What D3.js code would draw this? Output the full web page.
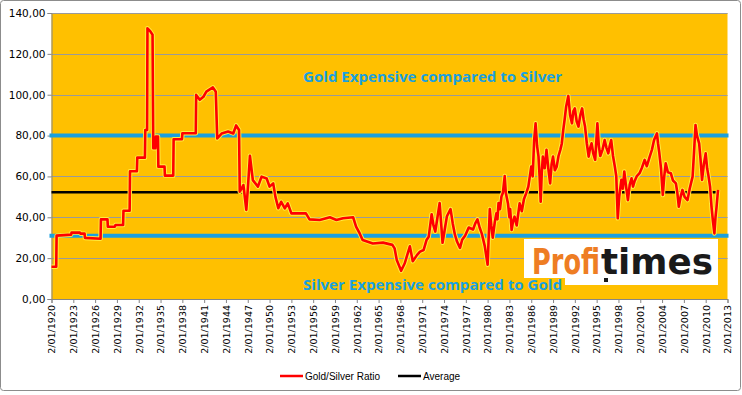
<!DOCTYPE html>
<html>
<head>
<meta charset="utf-8">
<script src="https://cdn.jsdelivr.net/npm/d3@7"></script>
<style>
  body { margin: 0; background: #fff; }
  svg { display: block; }
</style>
</head>
<body>
<svg></svg>
<script>
// gold / silver ratio since 1920, with the average and the two "zones"

// decimal years and ratio values
var years = [
  1920.0, 1920.65, 1920.7, 1922.7, 1922.75, 1923.9, 1924.0, 1924.55, 1924.6, 1926.75,
  1926.8, 1927.7, 1927.75, 1928.7, 1928.8, 1929.85, 1929.9, 1930.75, 1930.8, 1931.75,
  1931.8, 1932.85, 1932.9, 1933.15, 1933.2, 1933.6, 1933.9, 1934.0, 1934.3, 1934.35,
  1934.65, 1934.7, 1935.55, 1935.6, 1936.75, 1936.8, 1937.95, 1938.0, 1939.85, 1939.9,
  1940.4, 1940.9, 1941.3, 1942.2, 1942.6, 1942.8, 1943.4, 1944.3, 1945.0, 1945.4,
  1945.8, 1945.9, 1946.4, 1946.8, 1947.0, 1947.3, 1947.7, 1948.4, 1948.9, 1949.6,
  1950.0, 1950.5, 1950.8, 1951.2, 1951.6, 1952.1, 1952.5, 1953.0, 1955.0, 1955.5,
  1956.9, 1958.3, 1959.2, 1960.1, 1961.5, 1961.9, 1962.4, 1962.8, 1964.2, 1965.6,
  1966.9, 1967.2, 1967.5, 1968.1, 1968.6, 1969.3, 1969.7, 1970.3, 1970.7, 1971.2,
  1971.6, 1971.9, 1972.3, 1972.55, 1972.8, 1973.1, 1973.4, 1973.8, 1974.1, 1974.4,
  1974.9, 1975.2, 1975.5, 1975.8, 1976.2, 1976.5, 1976.9, 1977.4, 1978.0, 1978.3,
  1978.6, 1978.9, 1979.2, 1979.6, 1980.0, 1980.3, 1980.5, 1980.7, 1981.0, 1981.2,
  1981.35, 1981.5, 1981.7, 1981.9, 1982.1, 1982.35, 1982.5, 1982.8, 1983.0, 1983.1,
  1983.3, 1983.5, 1983.7, 1984.0, 1984.4, 1984.7, 1985.0, 1985.3, 1985.6, 1986.0,
  1986.2, 1986.4, 1986.6, 1986.8, 1987.0, 1987.15, 1987.3, 1987.45, 1987.6, 1987.85,
  1988.1, 1988.35, 1988.6, 1988.8, 1989.0, 1989.25, 1989.5, 1989.75, 1990.0, 1990.2,
  1990.4, 1990.6, 1990.8, 1991.1, 1991.35, 1991.6, 1991.8, 1992.0, 1992.25, 1992.5,
  1992.75, 1993.0, 1993.2, 1993.4, 1993.65, 1993.9, 1994.1, 1994.3, 1994.55, 1994.8,
  1995.1, 1995.3, 1995.5, 1995.8, 1996.1, 1996.35, 1996.6, 1996.8, 1997.0, 1997.25,
  1997.5, 1997.7, 1997.9, 1998.1, 1998.4, 1998.6, 1998.8, 1999.05, 1999.3, 1999.55,
  1999.8, 2000.0, 2000.2, 2000.5, 2000.9, 2001.2, 2001.6, 2001.9, 2002.3, 2002.6,
  2002.9, 2003.3, 2003.45, 2003.6, 2003.85, 2004.1, 2004.3, 2004.5, 2004.8, 2005.2,
  2005.5, 2005.9, 2006.1, 2006.3, 2006.55, 2006.8, 2007.1, 2007.5, 2007.8, 2008.2,
  2008.4, 2008.6, 2008.8, 2009.1, 2009.3, 2009.5, 2009.75, 2010.0, 2010.2, 2010.4,
  2010.6, 2010.8, 2011.0, 2011.2, 2011.35, 2011.5, 2011.7
];
var ratio = [
  15.8, 15.8, 31, 31.5, 32.5, 32.5, 32, 32, 29.9, 29.5,
  39, 39, 35.4, 35.4, 36.2, 36.2, 43.2, 43.2, 62.5, 62.5,
  69.2, 69.2, 82.7, 82.7, 132.5, 131, 129.4, 73.8, 73.8, 79.5,
  79.5, 64.8, 64.8, 60.4, 60.4, 78.2, 78.2, 81.1, 81.1, 99.9,
  97.5, 99, 101.5, 103.6, 101.5, 78.6, 81, 82, 81, 85,
  82.7, 52.5, 55.8, 43.6, 53.4, 70.1, 58.2, 55, 59.9, 59,
  55, 56.6, 50.1, 44.4, 47.6, 44.4, 46.8, 41.9, 41.9, 39,
  38.7, 40, 38.7, 39.5, 40, 35.4, 32.1, 28.9, 27.2, 27.6,
  26.5, 24.8, 19.1, 13.8, 17.5, 25.8, 18.5, 21.6, 23.2, 24,
  28.9, 30.5, 41.5, 36, 33, 40, 47, 27.5, 34, 40.5,
  44, 37, 31.5, 28, 25, 29, 31, 35, 34, 37,
  39, 35, 32, 26, 16.8, 44, 36, 30, 38, 41.9,
  39, 47, 44, 50.1, 52, 60.2, 52, 46.8, 40, 44,
  33.8, 38, 40.3, 36, 46.8, 43, 49, 51.7, 55, 64.8,
  60, 77.8, 86, 75, 69.7, 60, 47.6, 62, 69.7, 64,
  73, 64, 56.6, 66, 69.7, 63, 64.8, 70, 73, 76,
  82.7, 88, 94.1, 99.4, 90, 86, 92, 93.3, 87, 84.4,
  90, 93.3, 88, 84.4, 76, 69.7, 74, 76.2, 71, 68.1,
  86, 75, 70, 73, 77.8, 74, 71.3, 75, 77.8, 70,
  64.8, 60, 39.5, 50, 58.3, 54, 62.4, 55, 48.4, 56,
  59.1, 55, 57.5, 60, 61.6, 64, 68.1, 65, 69.7, 73,
  77.8, 81.1, 76, 72.1, 64, 50.9, 60, 66.4, 62, 61.6,
  58, 56.6, 52, 45.2, 50, 53.4, 50, 48.4, 54, 59.9,
  72, 85.2, 80, 76.2, 68, 58.3, 66, 71.3, 64, 59.9,
  55, 45.2, 38, 32.1, 40, 45.2, 53.4
];
var average = 52.2;
var zones = [80, 31];
var zoneLabels = ['Gold Expensive compared to Silver', 'Silver Expensive compared to Gold'];
var yTicks = [0, 20, 40, 60, 80, 100, 120, 140];
var tickYears = d3.range(1920, 2014, 3);
var legendItems = [
  { name: 'Gold/Silver Ratio', color: '#ff0000' },
  { name: 'Average', color: '#000000' }
];

var width = 742;
var height = 395;
var margin = { top: 13, right: 14.5, bottom: 96, left: 51.5 };
var svg = d3.select('svg')
              .attr('width', width)
              .attr('height', height);

function toDate(y) {
  var yr = Math.floor(y);
  var start = new Date(yr, 0, 2);
  var end = new Date(yr + 1, 0, 2);
  return new Date(+start + (y - yr) * (end - start));
}

var data = years.map((y, i) => ({ date: toDate(y), value: ratio[i] }));

var x = d3.scaleTime()
            .domain([new Date(1920, 0, 2), new Date(2013, 0, 2)])
            .range([margin.left, width - margin.right]);
var y = d3.scaleLinear()
            .domain([0, 140])
            .range([height - margin.bottom, margin.top]);

// outer frame
svg.append('rect')
    .attr('x', 0.5).attr('y', 0.5)
    .attr('width', 740).attr('height', 390)
    .attr('rx', 3)
    .attr('fill', '#fff')
    .attr('stroke', '#8c8c8c');

// plot area
svg.append('rect')
    .attr('x', margin.left)
    .attr('y', margin.top)
    .attr('width', width - margin.right - margin.left)
    .attr('height', height - margin.bottom - margin.top)
    .attr('fill', '#ffc000');

// gridlines
svg.append('g')
  .selectAll('line')
  .data(yTicks.slice(1))
  .enter()
  .append('line')
    .attr('x1', margin.left)
    .attr('x2', width - margin.right)
    .attr('y1', d => Math.round(y(d)) + 0.5)
    .attr('y2', d => Math.round(y(d)) + 0.5)
    .attr('stroke', '#9a9a9a')
    .attr('stroke-width', 1);

// y axis
var yAxis = svg.append('g')
    .attr('transform', `translate(${margin.left},0)`)
    .call(d3.axisLeft(y)
      .tickValues(yTicks)
      .tickSize(4)
      .tickFormat(d => d3.format('.2f')(d).replace('.', ',')));
yAxis.select('.domain').attr('stroke', '#868686');
yAxis.selectAll('.tick line').attr('stroke', '#868686');
yAxis.selectAll('text')
    .attr('x', -6)
    .style('font-family', 'DejaVu Sans, sans-serif')
    .style('font-size', '10.5px')
    .attr('fill', '#000');

// x axis
var xAxis = svg.append('g')
    .attr('transform', `translate(0,${height - margin.bottom})`)
    .call(d3.axisBottom(x)
      .tickValues(tickYears.map(t => new Date(t, 0, 2)))
      .tickSize(4)
      .tickFormat(d3.timeFormat('%-d/%m/%Y')));
xAxis.select('.domain').attr('stroke', '#868686');
xAxis.selectAll('.tick line').attr('stroke', '#868686');
xAxis.selectAll('text')
    .attr('transform', 'rotate(-90)')
    .attr('x', -6)
    .attr('y', 0)
    .attr('dy', '0.35em')
    .attr('text-anchor', 'end')
    .style('font-family', 'DejaVu Sans, sans-serif')
    .style('font-size', '9.5px')
    .attr('fill', '#000');

// zone lines
svg.append('g')
  .selectAll('line')
  .data(zones)
  .enter()
  .append('line')
    .attr('x1', margin.left - 2)
    .attr('x2', width - margin.right + 1)
    .attr('y1', d => y(d))
    .attr('y2', d => y(d))
    .attr('stroke', '#1aa0df')
    .attr('stroke-width', 4);

// average line
svg.append('line')
    .attr('x1', x(data[0].date))
    .attr('x2', x(data[data.length - 1].date))
    .attr('y1', y(average))
    .attr('y2', y(average))
    .attr('stroke', '#000')
    .attr('stroke-width', 2.5);

// ratio line
var line = d3.line()
    .x(d => x(d.date))
    .y(d => y(d.value));

svg.append('path')
    .datum(data)
    .attr('d', line)
    .attr('fill', 'none')
    .attr('stroke', '#ffee40')
    .attr('stroke-width', 4.5)
    .attr('stroke-linejoin', 'round');

svg.append('path')
    .datum(data)
    .attr('d', line)
    .attr('fill', 'none')
    .attr('stroke', '#ff0000')
    .attr('stroke-width', 2.6)
    .attr('stroke-linejoin', 'round');

// logo
var logo = svg.append('g');
logo.append('rect')
    .attr('x', 524).attr('y', 239)
    .attr('width', 194).attr('height', 46)
    .attr('fill', '#fff');
var logoParts = [
  { text: 'Profi', x: 532, w: 68, color: '#ee7d23' },
  { text: 'times', x: 601, w: 112, color: '#1a1a1a' }
];
logoParts.forEach(function(p) {
  var t = logo.append('text')
      .attr('fill', p.color)
      .style('font-family', 'DejaVu Sans, sans-serif')
      .style('font-weight', 'bold')
      .style('font-size', '36px')
      .text(p.text);
  // squeeze the glyphs horizontally so the real box matches the logo width
  var natural = t.node().getComputedTextLength();
  t.attr('transform', `translate(${p.x},274) scale(${p.w / natural},1)`);
});
logo.append('rect')
    .attr('x', 604).attr('y', 278)
    .attr('width', 4).attr('height', 4)
    .attr('fill', '#1a1a1a');

// zone labels (text boxes with the plot colour behind them, drawn over the logo)
var labelY = [82, 290];
var labels = svg.append('g')
  .selectAll('g')
  .data(zoneLabels)
  .enter()
  .append('g');
labels.append('rect')
    .attr('x', 301)
    .attr('y', (d, i) => labelY[i] - 12)
    .attr('width', 264)
    .attr('height', 16)
    .attr('fill', '#ffc000');
labels.append('text')
    .attr('x', 303)
    .attr('y', (d, i) => labelY[i])
    .attr('fill', '#1aa0df')
    .attr('textLength', 259)
    .attr('lengthAdjust', 'spacingAndGlyphs')
    .style('font-family', 'Open Sans, sans-serif')
    .style('font-weight', 'bold')
    .style('font-size', '15px')
    .text(d => d);

// legend
var legend = svg.append('g')
    .attr('transform', 'translate(280,376)');
var legendX = [0, 118];
legendItems.forEach(function(item, i) {
  var g = legend.append('g').attr('transform', `translate(${legendX[i]},0)`);
  g.append('line')
      .attr('x1', 0).attr('x2', 23)
      .attr('stroke', item.color)
      .attr('stroke-width', 2.5);
  g.append('text')
      .attr('x', 25)
      .attr('dy', '0.35em')
      .style('font-family', 'Liberation Sans, Arial, sans-serif')
      .style('font-size', '10px')
      .text(item.name);
});
</script>
</body>
</html>
